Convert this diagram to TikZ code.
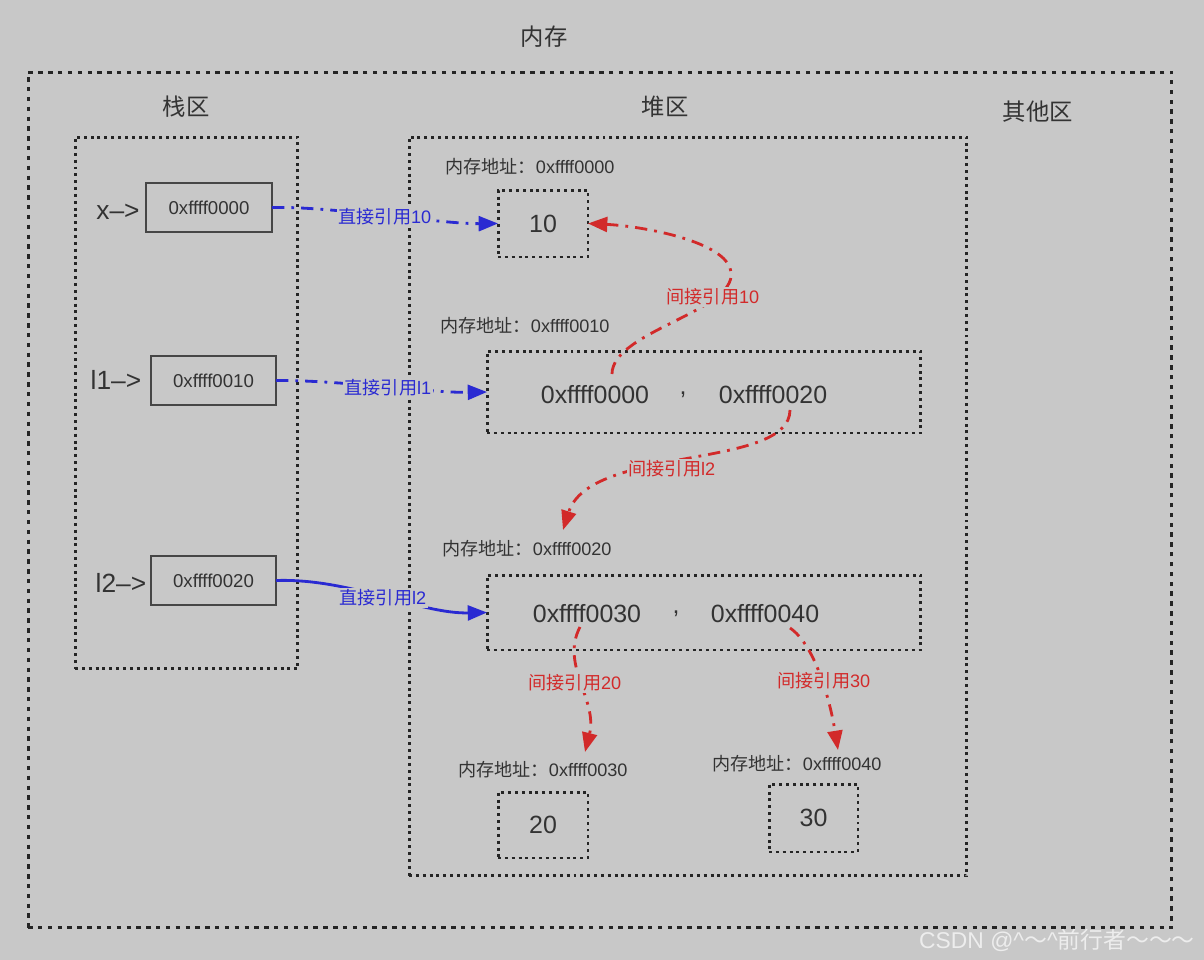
\documentclass[tikz,border=0pt]{standalone}
\usepackage{fontspec}
\setmainfont{Noto Sans CJK SC}
\newfontfamily\latf{Liberation Sans}
\newcommand\latn[1]{{\latf #1}}
\usetikzlibrary{arrows.meta}
\definecolor{bg}{HTML}{C8C8C8}
\definecolor{dk}{HTML}{252525}
\definecolor{txt}{HTML}{333333}
\definecolor{bl}{HTML}{2A2AD2}
\definecolor{rd}{HTML}{D22A2A}
\definecolor{wm}{HTML}{EDEDED}
\begin{document}
\begin{tikzpicture}[x=0.02cm,y=-0.02cm,
  dotbox/.style={draw=dk, line width=1.7pt, dash pattern=on 1.7pt off 2.2pt, inner sep=0pt, outer sep=0pt, text=txt},
  widedot/.style={dotbox, line width=1.7pt, dash pattern=on 2.5pt off 3.1pt},
  solidbox/.style={draw=dk!85, line width=0.9pt, inner sep=0pt, outer sep=0pt, text=txt, font=\latf\fontsize{10.6pt}{12pt}\selectfont},
  title/.style={text=txt, font=\fontsize{13.3pt}{15pt}\selectfont},
  big/.style={text=txt, font=\latf\fontsize{14.2pt}{16pt}\selectfont},
  addr/.style={text=txt, font=\fontsize{10.3pt}{12pt}\selectfont},
  ptr/.style={text=txt, font=\latf\fontsize{15pt}{17pt}\selectfont},
  lblb/.style={fill=bg, text=bl, inner sep=1pt, font=\fontsize{10.3pt}{12pt}\selectfont},
  lblr/.style={fill=bg, text=rd, inner sep=1pt, font=\fontsize{10.3pt}{12pt}\selectfont},
  tip/.style={-{Triangle[length=11pt,width=8.5pt]}},
  bluedd/.style={draw=bl, line width=1.6pt, dash pattern=on 7pt off 4pt on 1.6pt off 4pt, tip},
  bluesolid/.style={draw=bl, line width=1.6pt, tip},
  reddd/.style={draw=rd, line width=1.6pt, dash pattern=on 7pt off 4pt on 1.6pt off 4pt, tip}
]
\fill[bg] (0,0) rectangle (1204,960);
\useasboundingbox (0,0) rectangle (1204,960);

% titles
\node[title] (tmem) at (544,37) {内存};
\node[title] (tstack) at (186,107) {栈区};
\node[title] (theap) at (665,107) {堆区};
\node[title] (tother) at (1038,112) {其他区};

% regions
\node[widedot, minimum width=22.88cm, minimum height=17.12cm] (outer) at (600,500) {};
\node[dotbox, minimum width=4.46cm, minimum height=10.64cm] (stack) at (186.5,403) {};
\node[dotbox, minimum width=11.16cm, minimum height=14.78cm] (heap) at (688,506.5) {};

% stack
\node[ptr] (px) at (118,212) {x–>};
\node[solidbox, minimum width=2.52cm, minimum height=0.98cm] (sx) at (209,207.5) {0xffff0000};
\node[ptr] (pl1) at (116,380) {l1–>};
\node[solidbox, minimum width=2.5cm, minimum height=0.98cm] (sl1) at (213.5,380.5) {0xffff0010};
\node[ptr] (pl2) at (121,583) {l2–>};
\node[solidbox, minimum width=2.5cm, minimum height=0.98cm] (sl2) at (213.5,580.5) {0xffff0020};

% heap
\node[addr] (a0) at (530,167) {内存地址：\latn{0xffff0000}};
\node[dotbox, big, minimum width=1.8cm, minimum height=1.34cm] (b10) at (543,223.5) {10};

\node[addr] (a10) at (525,326) {内存地址：\latn{0xffff0010}};
\node[dotbox, minimum width=8.68cm, minimum height=1.64cm] (box1) at (704,392) {};
\node[big] (t00) at (595,395) {0xffff0000};
\node[big] (c1) at (683,395) {,};
\node[big] (t20) at (773,395) {0xffff0020};

\node[addr] (a20) at (527,549) {内存地址：\latn{0xffff0020}};
\node[dotbox, minimum width=8.68cm, minimum height=1.5cm] (box2) at (704,612.5) {};
\node[big] (t30) at (587,614) {0xffff0030};
\node[big] (c2) at (676,614) {,};
\node[big] (t40) at (765,614) {0xffff0040};

\node[addr] (a30) at (543,770) {内存地址：\latn{0xffff0030}};
\node[dotbox, big, minimum width=1.8cm, minimum height=1.32cm] (b20) at (543,825) {20};
\node[addr] (a40) at (797,764) {内存地址：\latn{0xffff0040}};
\node[dotbox, big, minimum width=1.78cm, minimum height=1.36cm] (b30) at (813.5,818) {30};

% connector endpoints
\coordinate (r1s) at (612,374);
\coordinate (r1m) at (730,268);
\coordinate (r2s) at (790,410);
\coordinate (r2e) at (563,530);
\coordinate (r3s) at (580,627);
\coordinate (r3e) at (585,752);
\coordinate (r4s) at (790,628);
\coordinate (r4e) at (838,750);

% blue connectors
\draw[bluedd] (sx.east) .. controls (330,206) and (440,224) .. (b10.west);
\draw[bluedd] (sl1.east) .. controls (340,380) and (430,393) .. (box1.west);
\draw[bluesolid] (sl2.east) .. controls (350,578) and (420,614) .. (box2.west);

% red connectors
\draw[reddd] (r1s) .. controls (612,330) and (745,310) .. (r1m) .. controls (720,240) and (640,226) .. (b10.east);
\draw[reddd] (r2s) .. controls (790,470) and (590,445) .. (r2e);
\draw[reddd] (r3s) .. controls (560,665) and (598,700) .. (r3e);
\draw[reddd] (r4s) .. controls (815,645) and (830,700) .. (r4e);

% labels
\node[lblb] (l1) at (385,217) {直接引用\latn{10}};
\node[lblb] (l2) at (388,388) {直接引用\latn{l1}};
\node[lblb] (l3) at (383,598) {直接引用\latn{l2}};
\node[lblr] (l4) at (713,297) {间接引用\latn{10}};
\node[lblr] (l5) at (672,469) {间接引用\latn{l2}};
\node[lblr] (l6) at (575,683) {间接引用\latn{20}};
\node[lblr] (l7) at (824,681) {间接引用\latn{30}};

% watermark
\node[text=wm, font=\fontsize{13pt}{15pt}\selectfont] (wmk) at (1057,940) {\latn{CSDN @\^{}}～\latn{\^{}}前行者～～～};
\end{tikzpicture}
\end{document}
